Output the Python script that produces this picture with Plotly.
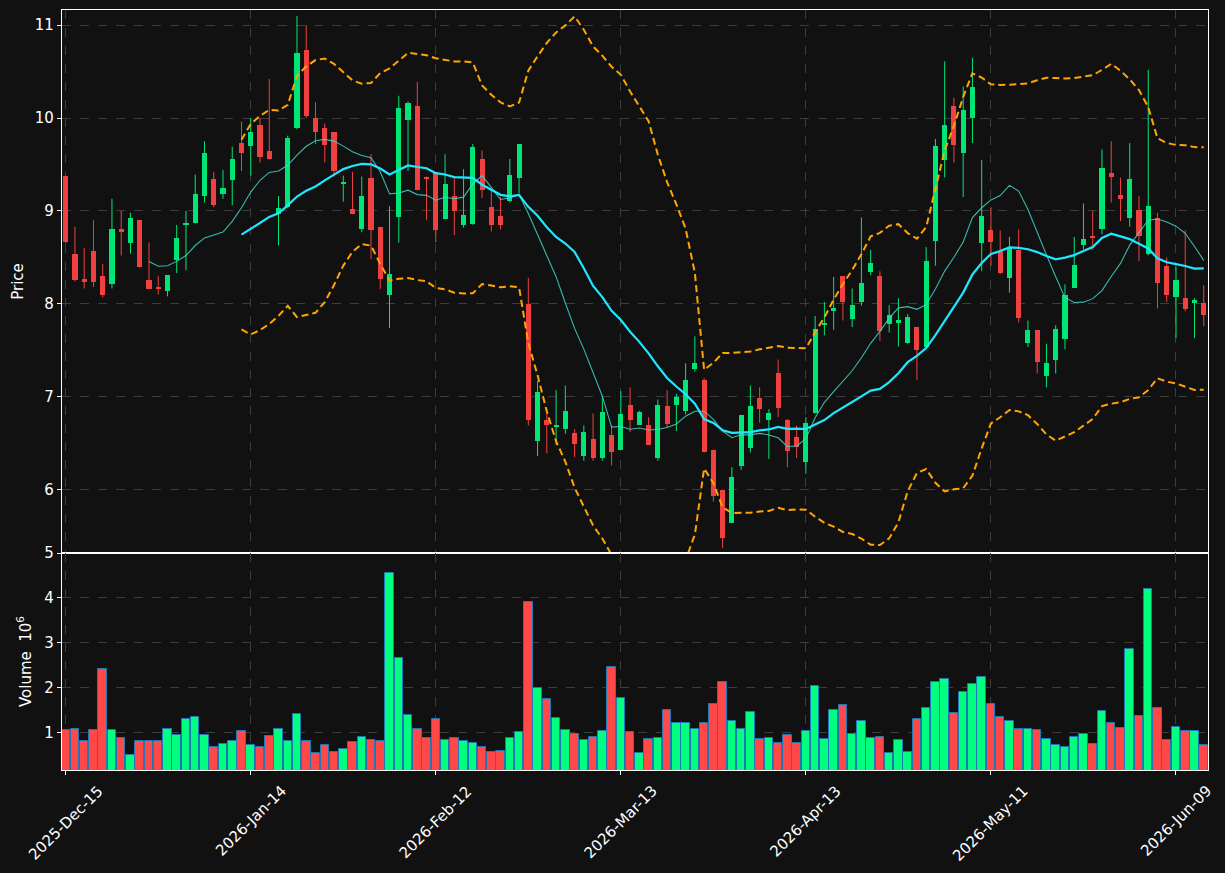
import numpy as np
import pandas as pd
import plotly.graph_objects as go

# ---------------- data ----------------
opens = [9.38, 8.54, 8.27, 8.57, 8.30, 8.21, 8.81, 8.65, 8.90, 8.26,
         8.18, 8.135, 8.47, 8.85, 8.865, 9.16, 9.34, 9.18, 9.33, 9.73,
         9.70, 9.93, 9.64, 8.97, 9.04, 9.89, 10.73, 10.00, 9.89, 9.85,
         9.29, 9.02, 8.80, 9.35, 8.83, 8.10, 8.93, 9.98, 10.13, 9.36,
         9.42, 8.91, 9.16, 8.85, 8.86, 9.56, 9.04, 8.94, 9.105, 9.35,
         8.00, 6.52, 6.75, 6.67, 6.65, 6.61, 6.36, 6.54, 6.34, 6.59,
         6.43, 6.91, 6.70, 6.70, 6.34, 6.90, 6.91, 6.85, 7.30, 7.18,
         6.43, 6.00, 5.64, 6.25, 6.45, 6.99, 6.745, 7.26, 6.75, 6.57,
         6.30, 6.82, 7.78, 7.92, 8.30, 7.84, 8.015, 8.34, 8.30, 7.78,
         7.79, 7.58, 7.75, 7.53, 8.68, 9.55, 10.13, 9.62, 10.00, 8.65,
         8.79, 8.56, 8.28, 8.58, 7.58, 7.72, 7.22, 7.39, 7.62, 8.17,
         8.63, 8.73, 8.80, 9.41, 9.17, 8.92, 9.01, 8.54, 8.92, 8.41,
         8.07, 8.06, 8.01, 8.01]
highs = [9.38, 8.83, 8.60, 8.90, 8.43, 9.13, 9.00, 8.98, 8.90, 8.66,
         8.30, 8.31, 8.85, 9.00, 9.39, 9.75, 9.42, 9.44, 9.69, 9.96,
         10.00, 10.00, 10.42, 9.16, 9.81, 11.10, 11.00, 10.17, 9.94, 9.85,
         9.38, 9.42, 9.37, 9.61, 8.83, 9.05, 10.24, 10.18, 10.39, 9.37,
         9.42, 9.61, 9.36, 9.45, 9.72, 9.65, 9.22, 9.15, 9.56, 9.72,
         8.28, 7.17, 6.88, 7.07, 7.12, 6.65, 6.69, 6.82, 7.01, 6.69,
         7.06, 7.10, 6.85, 6.78, 6.97, 7.07, 7.03, 7.36, 7.65, 7.20,
         6.43, 6.00, 6.24, 6.80, 7.12, 7.10, 6.865, 7.40, 6.76, 6.69,
         6.78, 7.87, 8.02, 8.29, 8.30, 8.165, 8.93, 8.58, 8.35, 7.985,
         8.06, 7.89, 7.75, 8.61, 9.775, 10.61, 10.22, 10.34, 10.65, 9.55,
         9.04, 8.79, 8.72, 8.80, 7.82, 7.72, 7.57, 7.77, 8.21, 8.72,
         9.08, 9.00, 9.66, 9.75, 9.36, 9.73, 9.16, 10.52, 8.98, 8.50,
         8.40, 8.79, 8.06, 8.20]
lows = [8.65, 8.24, 8.165, 8.18, 8.07, 8.165, 8.52, 8.54, 8.39, 8.16,
        8.10, 8.08, 8.33, 8.36, 8.865, 9.09, 9.04, 9.13, 9.06, 9.43,
        9.38, 9.52, 9.55, 8.63, 9.03, 9.88, 10.00, 9.72, 9.52, 9.37,
        9.10, 8.97, 8.77, 8.48, 8.16, 7.74, 8.66, 9.43, 9.22, 8.90,
        8.66, 8.91, 8.74, 8.82, 8.85, 9.14, 8.78, 8.80, 9.09, 9.19,
        6.69, 6.36, 6.39, 6.48, 6.60, 6.35, 6.31, 6.31, 6.31, 6.26,
        6.43, 6.62, 6.70, 6.48, 6.31, 6.67, 6.63, 6.81, 7.27, 6.40,
        5.87, 5.37, 5.64, 6.21, 6.40, 6.72, 6.33, 6.78, 6.24, 6.34,
        6.17, 6.82, 7.66, 7.72, 7.82, 7.75, 7.98, 8.31, 7.60, 7.69,
        7.54, 7.57, 7.18, 7.53, 8.41, 9.36, 9.52, 9.15, 9.73, 8.35,
        8.41, 8.32, 8.12, 7.80, 7.535, 7.25, 7.10, 7.25, 7.51, 8.17,
        8.585, 8.58, 8.75, 9.09, 8.89, 8.83, 8.46, 8.52, 7.95, 8.02,
        7.63, 7.92, 7.63, 7.76]
closes = [8.67, 8.26, 8.24, 8.24, 8.10, 8.80, 8.77, 8.92, 8.40, 8.16,
          8.155, 8.31, 8.71, 8.87, 9.18, 9.62, 9.06, 9.25, 9.56, 9.62,
          9.85, 9.58, 9.555, 9.03, 9.79, 10.70, 10.02, 9.85, 9.71, 9.43,
          9.31, 8.97, 9.165, 8.79, 8.27, 8.32, 10.11, 10.16, 9.23, 9.35,
          8.79, 9.29, 9.00, 8.96, 9.69, 9.22, 8.85, 8.85, 9.39, 9.72,
          6.75, 7.05, 6.70, 6.70, 6.85, 6.49, 6.62, 6.34, 6.83, 6.40,
          6.81, 6.75, 6.835, 6.48, 6.91, 6.71, 7.00, 7.18, 7.36, 6.40,
          5.93, 5.48, 6.13, 6.80, 6.90, 6.87, 6.825, 6.88, 6.42, 6.46,
          6.72, 7.73, 7.79, 7.96, 8.02, 7.985, 8.22, 8.44, 7.71, 7.88,
          7.83, 7.86, 7.50, 8.46, 9.70, 9.92, 9.71, 10.09, 10.33, 8.94,
          8.67, 8.33, 8.60, 7.85, 7.72, 7.37, 7.365, 7.73, 8.09, 8.42,
          8.70, 8.71, 9.46, 9.37, 9.13, 9.34, 8.73, 9.05, 8.22, 8.09,
          8.26, 7.94, 8.04, 7.88]
volumes = [1.04, 1.07, 0.80, 1.04, 2.41, 1.04, 0.87, 0.49, 0.80, 0.80,
           0.80, 1.07, 0.93, 1.29, 1.33, 0.93, 0.67, 0.73, 0.80, 1.02,
           0.71, 0.67, 0.91, 1.07, 0.80, 1.40, 0.80, 0.53, 0.71, 0.55,
           0.62, 0.78, 0.89, 0.82, 0.80, 4.55, 2.65, 1.38, 1.07, 0.87,
           1.29, 0.82, 0.87, 0.80, 0.75, 0.67, 0.55, 0.58, 0.87, 1.00,
           3.90, 1.98, 1.74, 1.31, 1.04, 0.96, 0.82, 0.89, 1.02, 2.45,
           1.76, 1.00, 0.53, 0.84, 0.87, 1.49, 1.20, 1.20, 1.07, 1.20,
           1.62, 2.12, 1.25, 1.07, 1.45, 0.84, 0.87, 0.75, 0.93, 0.75,
           1.02, 2.03, 0.84, 1.49, 1.60, 0.96, 1.25, 0.87, 0.89, 0.53,
           0.82, 0.55, 1.29, 1.54, 2.12, 2.18, 1.42, 1.91, 2.07, 2.23,
           1.62, 1.33, 1.25, 1.07, 1.07, 1.04, 0.84, 0.71, 0.67, 0.89,
           0.96, 0.73, 1.47, 1.20, 1.09, 2.87, 1.36, 4.19, 1.54, 0.82,
           1.11, 1.02, 1.02, 0.71]
tick_labels = ["2025-Dec-15", "2026-Jan-14", "2026-Feb-12", "2026-Mar-13",
               "2026-Apr-13", "2026-May-11", "2026-Jun-09"]

# ---------------- derived ----------------
n = len(closes)
idx = np.arange(n)
tick_idx = list(range(0, n, 20))
o = np.array(opens); h = np.array(highs); l = np.array(lows); c = np.array(closes)
up = c >= o
cs = pd.Series(c)
ma10 = cs.rolling(10).mean()
ma20 = cs.rolling(20).mean()
sd20 = cs.rolling(20).std()
bb_up = ma20 + 2 * sd20
bb_lo = ma20 - 2 * sd20

UP_C = "#00e676"
DN_C = "#f04040"
VUP_C = "#00ff80"
VDN_C = "#ff4848"
BG = "#111111"
GRID = "#3c3c3c"

fig = go.Figure()


def wick_xy(mask):
    xs, ys = [], []
    for i in idx[mask]:
        xs += [i, i, None]
        ys += [l[i], h[i], None]
    return xs, ys


for mask, col in ((up, UP_C), (~up, DN_C)):
    wx, wy = wick_xy(mask)
    fig.add_trace(go.Scatter(x=wx, y=wy, mode="lines", line=dict(color=col, width=1),
                             hoverinfo="skip", showlegend=False, xaxis="x", yaxis="y"))
    body_lo = np.minimum(o, c)[mask]
    body_h = np.maximum(np.abs(c - o)[mask], 0.015)
    fig.add_trace(go.Bar(x=idx[mask], y=body_h, base=body_lo, width=0.55,
                         marker=dict(color=col, line=dict(width=0)),
                         showlegend=False, xaxis="x", yaxis="y"))

# overlays
fig.add_trace(go.Scatter(x=idx, y=bb_up, mode="lines",
                         line=dict(color="#ffa500", width=2, dash="7px,4px"),
                         showlegend=False, xaxis="x", yaxis="y"))
fig.add_trace(go.Scatter(x=idx, y=bb_lo, mode="lines",
                         line=dict(color="#ffa500", width=2, dash="7px,4px"),
                         showlegend=False, xaxis="x", yaxis="y"))
fig.add_trace(go.Scatter(x=idx, y=ma10, mode="lines",
                         line=dict(color="rgba(64,214,205,0.85)", width=1.1),
                         showlegend=False, xaxis="x", yaxis="y"))
fig.add_trace(go.Scatter(x=idx, y=ma20, mode="lines",
                         line=dict(color="#1ee8ff", width=2.2),
                         showlegend=False, xaxis="x", yaxis="y"))

# volume
vcols = [VUP_C if u else VDN_C for u in up]
fig.add_trace(go.Bar(x=idx, y=volumes, width=0.92,
                     marker=dict(color=vcols, line=dict(color="#1f77b4", width=1)),
                     showlegend=False, xaxis="x2", yaxis="y2"))

font = dict(family="DejaVu Sans", size=15, color="white")
axis_common = dict(showline=True, mirror=True, linecolor="white", linewidth=1.3,
                   ticks="outside", tickcolor="white", ticklen=4, tickwidth=1,
                   showgrid=True, gridcolor=GRID, gridwidth=1, griddash="dash",
                   zeroline=False, tickfont=font)
xr = [-0.4, n - 1 + 0.46]
split = 217 / 760

# x tick labels centred under their ticks (rotated 45 degrees)
annotations = [dict(x=t, y=-0.012, xref="x2", yref="paper", text=lab,
                    textangle=-45, xanchor="center", yanchor="top",
                    showarrow=False, font=font)
               for t, lab in zip(tick_idx, tick_labels)]

fig.update_layout(
    width=1225, height=873,
    paper_bgcolor=BG, plot_bgcolor=BG,
    margin=dict(l=62, r=17, t=10, b=103, autoexpand=False),
    bargap=0, barmode="overlay",
    font=font,
    annotations=annotations,
    xaxis=dict(axis_common, domain=[0, 1], anchor="y", range=xr,
               tickvals=tick_idx, showticklabels=False, matches="x2"),
    yaxis=dict(axis_common, domain=[split, 1], anchor="x", range=[5.317, 11.163],
               tickvals=[6, 7, 8, 9, 10, 11],
               title=dict(text="Price", font=font, standoff=7)),
    xaxis2=dict(axis_common, domain=[0, 1], anchor="y2", range=xr,
                tickvals=tick_idx, showticklabels=False),
    yaxis2=dict(axis_common, domain=[0, split], anchor="x2", range=[0.157, 5.003],
                tickvals=[1, 2, 3, 4, 5],
                title=dict(text="Volume  10<sup>6</sup>", font=font, standoff=9)),
)

fig.write_html("out.html")
